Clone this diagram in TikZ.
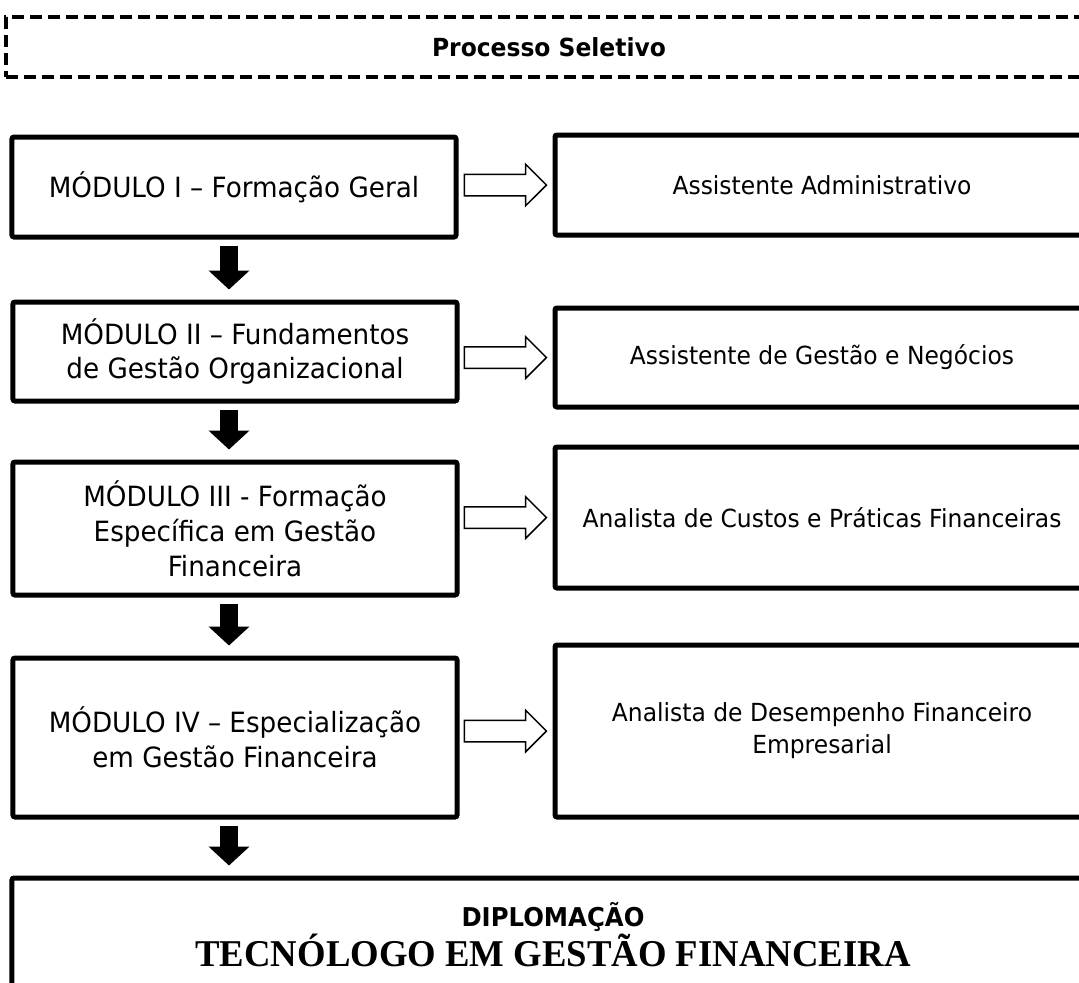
\documentclass[tikz,border=0pt]{standalone}
\usepackage{fontspec}
\setmainfont{DejaVu Sans}[FakeStretch=0.94]
\newfontfamily\serifbf{Liberation Serif}[FakeStretch=0.97]
\usetikzlibrary{arrows.meta,shapes.arrows,positioning}

\begin{document}
\begin{tikzpicture}
  [x=1bp,y=-1bp,
   every node/.style={inner sep=0pt,align=center},
   caixa/.style={draw,line width=5bp,rounded corners=2bp},
   modulo/.style={caixa,minimum width=444bp,font=\fontsize{28}{35}\selectfont},
   saida/.style={caixa,minimum width=534bp,font=\fontsize{25}{32}\selectfont},
   vazada/.style={single arrow,draw,line width=1.5bp,inner xsep=0pt,inner ysep=10bp,
                  minimum height=82bp,single arrow head extend=10bp},
   cheia/.style={line width=18bp,-{Triangle[width=40bp,length=19bp]},
                 shorten <=6bp,shorten >=10bp}]
  \useasboundingbox (0,0) rectangle (1079,983);
  \clip (0,0) rectangle (1079,983);

  \node[draw,line width=4bp,dash pattern=on 12bp off 6bp,minimum width=1086bp,
        minimum height=60bp,font=\bfseries\fontsize{25}{28}\selectfont]
        (sel) at (549,47) {Processo Seletivo};

  \node[modulo,minimum height=100bp] (m1) at (234,187)   {MÓDULO I – Formação Geral};
  \node[modulo,minimum height=99bp]  (m2) at (235,351.5) {MÓDULO II – Fundamentos\\de Gestão Organizacional};
  \node[modulo,minimum height=133bp] (m3) at (235,528.5) {MÓDULO III - Formação\\Específica em Gestão\\Financeira};
  \node[modulo,minimum height=159bp] (m4) at (235,737.5) {MÓDULO IV – Especialização\\em Gestão Financeira};

  \node[saida,minimum height=100bp] (s1) at (822,185)   {Assistente Administrativo};
  \node[saida,minimum height=99bp]  (s2) at (822,357.5) {Assistente de Gestão e Negócios};
  \node[saida,minimum height=141bp] (s3) at (822,517.5) {Analista de Custos e Práticas Financeiras};
  \node[saida,minimum height=172bp] (s4) at (822,731)   {Analista de Desempenho Financeiro\\Empresarial};

  \node[caixa,minimum width=1082bp,minimum height=114bp,font=\fontsize{26}{40}\selectfont]
        (dip) at (553,935) {{\bfseries DIPLOMAÇÃO}\\{\serifbf\bfseries\fontsize{38}{40}\selectfont TECNÓLOGO EM GESTÃO FINANCEIRA}};

  \foreach \n in {1,2,3,4}
    \node[vazada,left=5bp of s\n] (h\n) {};

  \foreach \from/\to in {m1/m2, m2/m3, m3/m4, m4/dip}
    \draw[cheia] ([xshift=-5bp]\from.south -| m1.south) -- ([xshift=-5bp]\to.north -| m1.north);
\end{tikzpicture}
\end{document}
